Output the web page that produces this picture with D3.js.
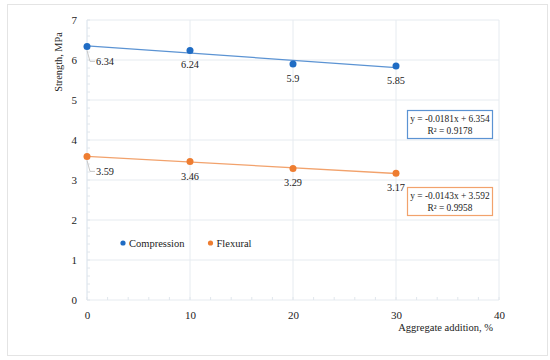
<!DOCTYPE html>
<html>
<head>
<meta charset="utf-8">
<script src="https://cdn.jsdelivr.net/npm/d3@7"></script>
<style>
  body { margin: 0; background: #fff; }
  svg text { font-family: 'Liberation Serif', 'Times New Roman', serif; fill: #222; }
</style>
</head>
<body>
<svg id="chart" width="550" height="360"></svg>
<script>
const additions = [0, 10, 20, 30];
const compression = [6.34, 6.24, 5.9, 5.85];
const flexural = [3.59, 3.46, 3.29, 3.17];
const xTicks = [0, 10, 20, 30, 40];
const yTicks = [0, 1, 2, 3, 4, 5, 6, 7];
const fitCompression = {slope: -0.0181, intercept: 6.354, label: "y = -0.0181x + 6.354", r2: "R² = 0.9178"};
const fitFlexural = {slope: -0.0143, intercept: 3.592, label: "y = -0.0143x + 3.592", r2: "R² = 0.9958"};

const FONT = "'Liberation Serif', 'Times New Roman', serif";

const svg = d3.select("#chart").attr("font-family", FONT);
const margin = {top: 20, right: 51, bottom: 60, left: 87};
const width = +svg.attr("width") - margin.left - margin.right;
const height = +svg.attr("height") - margin.top - margin.bottom;

// outer frame
svg.append("rect")
  .attr("x", 7.5).attr("y", 4.5)
  .attr("width", 540).attr("height", 351)
  .attr("fill", "none").attr("stroke", "#e4e4e4");

const x = d3.scaleLinear().domain([0, 40]).range([0, width]);
const y = d3.scaleLinear().domain([0, 7]).range([height, 0]);

const g = svg.append("g")
  .attr("transform", "translate(" + margin.left + "," + margin.top + ")");

// gridlines
g.selectAll(".hgrid").data(yTicks).enter().append("line")
  .attr("x1", 0).attr("x2", width)
  .attr("y1", d => y(d)).attr("y2", d => y(d))
  .attr("stroke", "#e6ebf0");
g.selectAll(".vgrid").data(xTicks).enter().append("line")
  .attr("x1", d => x(d)).attr("x2", d => x(d))
  .attr("y1", 0).attr("y2", height)
  .attr("stroke", d => d === 0 ? "#d6e0ea" : "#e6ebf0");

// minor ticks
g.selectAll(".ymin").data(d3.range(0, 7.01, 0.2)).enter().append("line")
  .attr("x1", 0).attr("x2", 3)
  .attr("y1", d => y(d)).attr("y2", d => y(d))
  .attr("stroke", "#e0e6ec");
g.selectAll(".xmin").data(d3.range(0, 40.01, 2)).enter().append("line")
  .attr("x1", d => x(d)).attr("x2", d => x(d))
  .attr("y1", height).attr("y2", height - 3)
  .attr("stroke", "#e0e6ec");

// axes
const xAxis = g.append("g")
  .attr("transform", "translate(0," + height + ")")
  .call(d3.axisBottom(x).tickValues(xTicks).tickFormat(d3.format("d")).tickSize(0).tickPadding(11));
const yAxis = g.append("g")
  .call(d3.axisLeft(y).tickValues(yTicks).tickFormat(d3.format("d")).tickSize(0).tickPadding(10));
[xAxis, yAxis].forEach(a => {
  a.attr("font-family", FONT);
  a.select(".domain").remove();
  a.selectAll("text").style("font-size", "11px").attr("fill", "#333");
});

svg.append("text")
  .attr("transform", "translate(62,62) rotate(-90)")
  .attr("text-anchor", "middle")
  .style("font-size", "10.3px")
  .text("Strength, MPa");
svg.append("text")
  .attr("x", 493).attr("y", 331)
  .attr("text-anchor", "end")
  .style("font-size", "10.5px")
  .text("Aggregate addition, %");

const series = [
  {values: compression, fit: fitCompression, mark: "#1f6cc4", line: "#5b93d3", box: {top: 110}},
  {values: flexural, fit: fitFlexural, mark: "#ee7d31", line: "#f2a26c", box: {top: 187}}
];

series.forEach(s => {
  // trendline
  g.append("line")
    .attr("x1", x(0)).attr("x2", x(30))
    .attr("y1", y(s.fit.intercept)).attr("y2", y(s.fit.intercept + s.fit.slope * 30))
    .attr("stroke", s.line).attr("stroke-width", 1.3);

  g.selectAll(null).data(additions).enter().append("circle")
    .attr("cx", d => x(d))
    .attr("cy", (d, i) => y(s.values[i]))
    .attr("r", 3.5)
    .attr("fill", s.mark);

  // data labels
  g.selectAll(null).data(additions).enter().append("text")
    .attr("x", (d, i) => i === 0 ? x(d) + 18 : x(d))
    .attr("y", (d, i) => y(s.values[i]) + (i === 0 ? 19 : 18))
    .attr("text-anchor", "middle")
    .style("font-size", "10.3px")
    .text((d, i) => s.values[i]);

  // leader line for first label
  const y0 = y(s.values[0]);
  g.append("path")
    .attr("d", "M" + x(0) + "," + (y0 + 4) + " L" + (x(0) + 3) + "," + (y0 + 15) + " L" + (x(0) + 8) + "," + (y0 + 15))
    .attr("fill", "none").attr("stroke", "#c8c8c8");

  // equation box
  const bx = 407, bw = 85, bh = 28, by = s.box.top;
  svg.append("rect")
    .attr("x", bx + 0.5).attr("y", by + 0.5)
    .attr("width", bw).attr("height", bh)
    .attr("fill", "#fff").attr("stroke", s.line).attr("stroke-width", 1.2);
  svg.append("text")
    .attr("x", bx + bw / 2 + 0.5).attr("y", by + 12)
    .attr("text-anchor", "middle").style("font-size", "9.4px")
    .text(s.fit.label);
  svg.append("text")
    .attr("x", bx + bw / 2 + 0.5).attr("y", by + 24)
    .attr("text-anchor", "middle").style("font-size", "9.4px")
    .text(s.fit.r2);
});

// legend
const legend = svg.append("g").attr("transform", "translate(123,243)");
const items = [{name: "Compression", color: series[0].mark}, {name: "Flexural", color: series[1].mark}];
items.forEach((it, i) => {
  const lg = legend.append("g").attr("transform", "translate(" + (i * 87.5) + ",0)");
  lg.append("circle").attr("r", 2.6).attr("fill", it.color);
  lg.append("text").attr("x", 6).attr("y", 3.5).style("font-size", "10.5px").text(it.name);
});
</script>
</body>
</html>
